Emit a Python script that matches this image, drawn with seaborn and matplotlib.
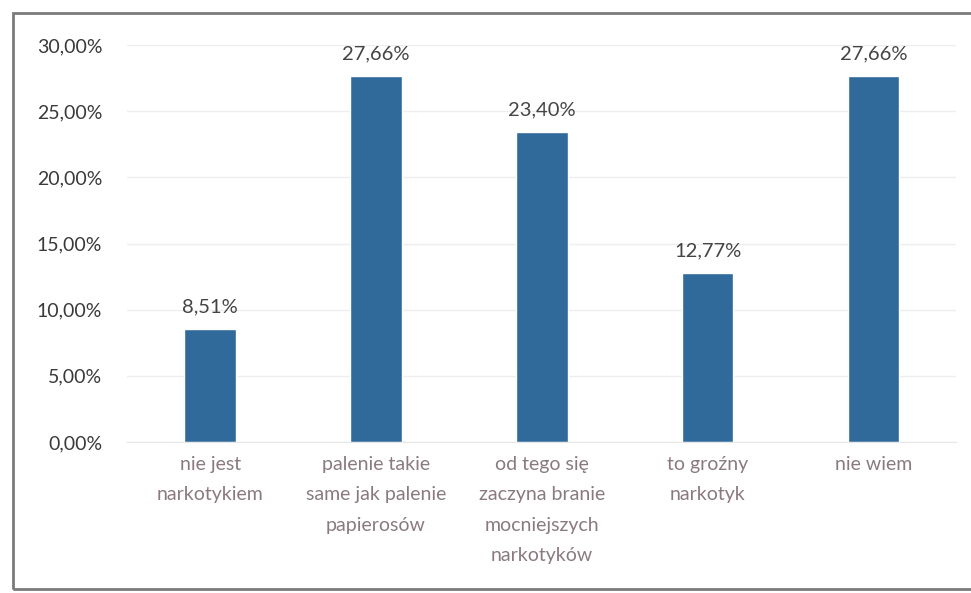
import seaborn as sns
import pandas as pd
import matplotlib.pyplot as plt
from matplotlib.patches import Rectangle
from matplotlib.ticker import FuncFormatter

categories = [
    "nie jest\nnarkotykiem",
    "palenie takie\nsame jak palenie\npapierosów",
    "od tego się\nzaczyna branie\nmocniejszych\nnarkotyków",
    "to groźny\nnarkotyk",
    "nie wiem",
]
values = [8.51, 27.66, 23.40, 12.77, 27.66]
y_ticks = [0, 5, 10, 15, 20, 25, 30]

df = pd.DataFrame({"answer": categories, "pct": values})

sns.set_style("white")
plt.rcParams["font.family"] = ["Lato", "DejaVu Sans"]

fig = plt.figure(figsize=(9.71, 5.93), dpi=100)
ax = fig.add_axes([0.131, 0.2546, 0.854, 0.6695])

sns.barplot(data=df, x="answer", y="pct", color="#2f6a9b", width=0.31,
            saturation=1, ax=ax)

ax.set_ylim(0, 30)
ax.set_yticks(y_ticks)
ax.yaxis.set_major_formatter(FuncFormatter(lambda v, p: f"{v:.2f}%".replace(".", ",")))
ax.grid(axis="y", color="#eeeeee", linewidth=1)
ax.set_axisbelow(True)
for s in ["top", "right", "left"]:
    ax.spines[s].set_visible(False)
ax.spines["bottom"].set_color("#e6e6e6")
ax.tick_params(axis="y", length=0, labelsize=14, labelcolor="#3a3a3a", pad=18)
ax.tick_params(axis="x", length=0, pad=10)
ax.set_xticks(range(len(categories)))
ax.set_xticklabels(categories, fontsize=14, color="#8a7a80", linespacing=1.95)
ax.set_xlabel("")
ax.set_ylabel("")

for i, v in enumerate(values):
    ax.annotate(f"{v:.2f}%".replace(".", ","), (i, v), xytext=(0, 10),
                textcoords="offset points", ha="center", va="bottom",
                fontsize=14.5, color="#444444", annotation_clip=False)

# chart frame (right edge falls outside the image, as in the scan)
fig.patches.append(Rectangle((13 / 971, 4 / 593), 970 / 971, 576 / 593,
                             transform=fig.transFigure, fill=False,
                             edgecolor="#7a7a7a", linewidth=2))

fig.savefig("out.png", dpi=100)
